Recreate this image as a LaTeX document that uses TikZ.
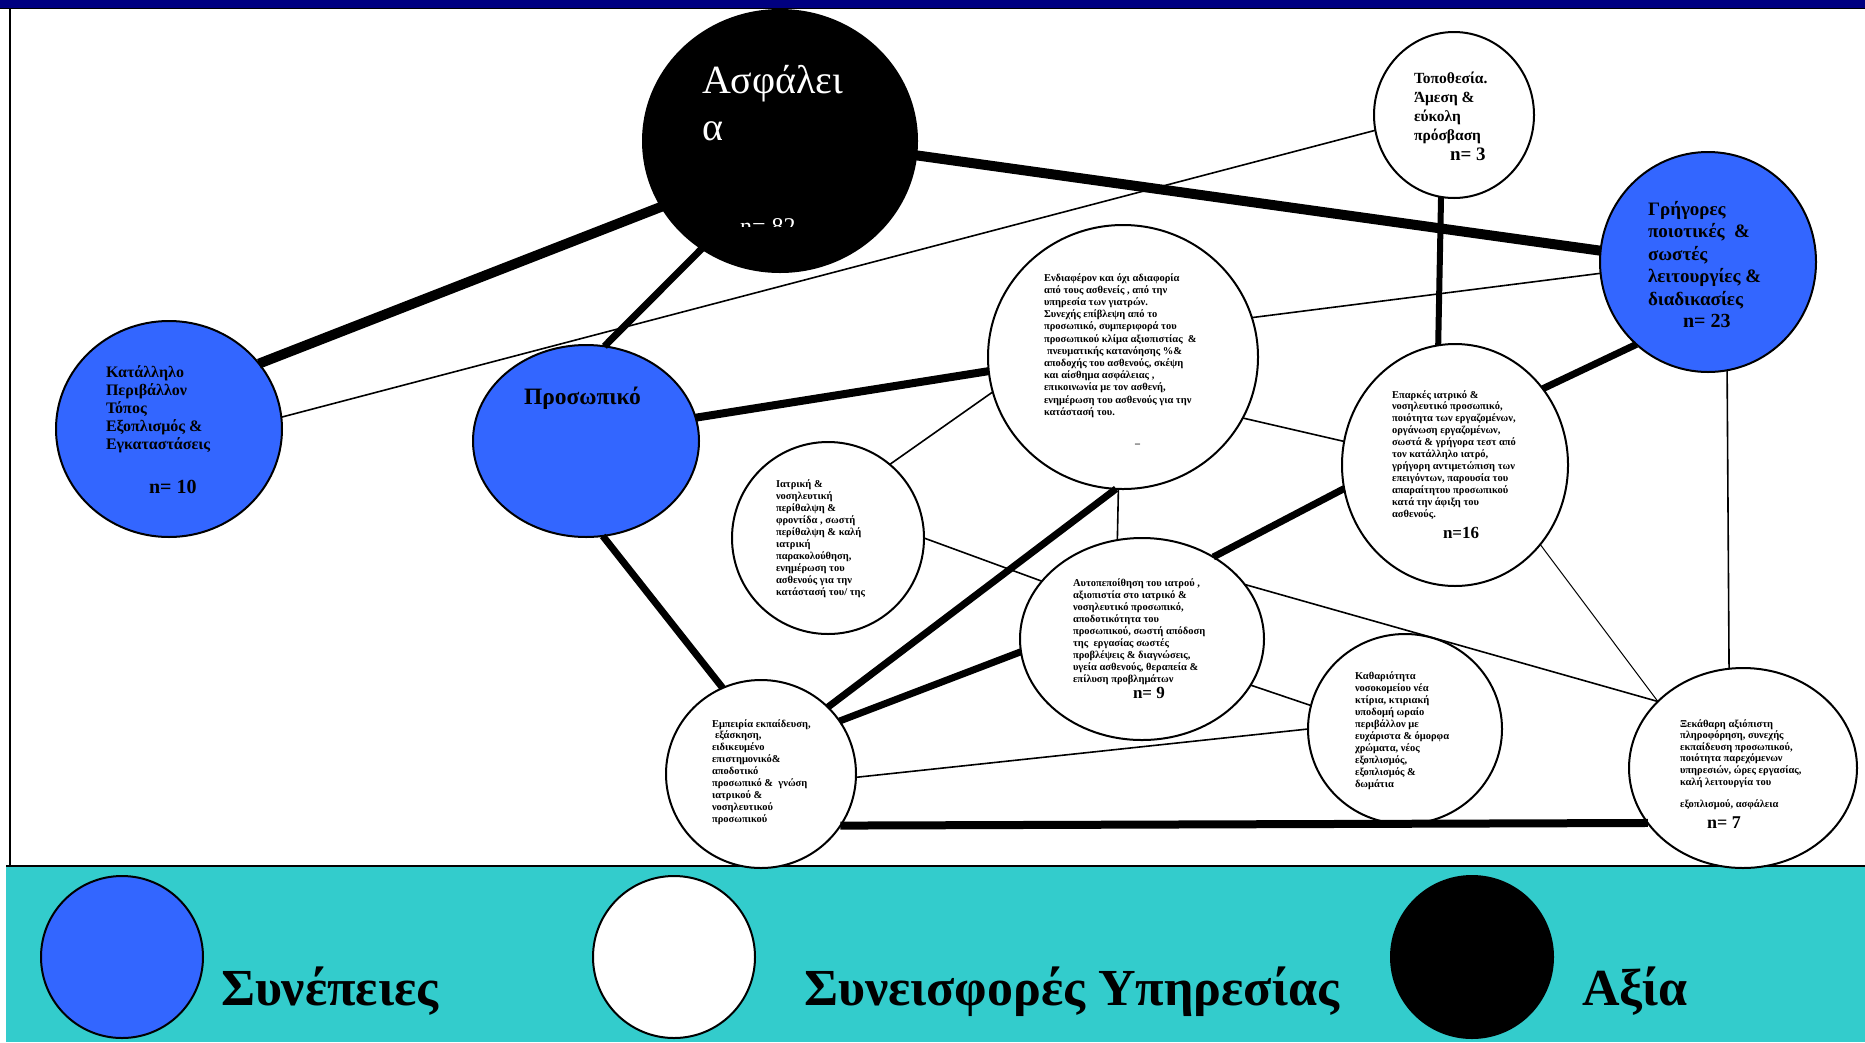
\documentclass[tikz,border=0pt]{standalone}
\usepackage{fontspec}
\setmainfont{Liberation Serif}
\usetikzlibrary{shapes.geometric}
\definecolor{myblue}{RGB}{51,102,255}
\definecolor{myteal}{RGB}{51,204,204}
\definecolor{mynavy}{RGB}{0,0,128}
\newcommand\mylines[1]{\vtop{\halign{##\hfil\cr#1\crcr}}}
\tikzset{
  bub/.style={ellipse, draw=black, line width=2pt, inner sep=0pt, outer sep=0pt},
  bluebub/.style={bub, fill=myblue},
  whitebub/.style={bub, fill=white},
  blackbub/.style={bub, fill=black},
  heavy/.style={line width=8pt},
  light/.style={line width=1.6pt},
  txt/.style={anchor=base west, inner sep=0pt, outer sep=0pt},
  smalltxt/.style={txt, font=\bfseries\fontsize{10.5}{12}\selectfont},
  ntxt/.style={txt, font=\bfseries\fontsize{#1}{#1}\selectfont},
  legtxt/.style={txt, font=\bfseries\fontsize{52}{60}\selectfont},
}
\begin{document}
\begin{tikzpicture}[x=1pt,y=-1pt]
\useasboundingbox (0,0) rectangle (1865,1042);
% frame
\fill[white] (0,0) rectangle (1865,1042);
\fill[mynavy] (0,0) rectangle (1865,8);
\draw[line width=1pt] (0,8) -- (1865,8);
\draw[line width=2pt] (10,8) -- (10,866);
\fill[myteal] (6,866) rectangle (1865,1042);
\draw[line width=2pt] (6,866) -- (1865,866);

% nodes
\node[blackbub, minimum width=274, minimum height=262] (asf) at (780,141) {};
\node[bluebub, minimum width=226, minimum height=216] (kat) at (169,429) {};
\node[bluebub, minimum width=226, minimum height=192] (pro) at (586,441) {};
\node[whitebub, minimum width=160, minimum height=166] (topo) at (1454,115) {};
\node[bluebub, minimum width=216, minimum height=220] (gri) at (1708,262) {};
\node[whitebub, minimum width=270, minimum height=264] (endi) at (1123,357) {};
\node[whitebub, minimum width=226, minimum height=242] (epa) at (1455,465) {};
\node[whitebub, minimum width=192, minimum height=192] (iat) at (828,538) {};
\node[whitebub, minimum width=244, minimum height=202] (aut) at (1142,639) {};
\node[whitebub, minimum width=194, minimum height=190] (kath) at (1405,729) {};
\node[whitebub, minimum width=190, minimum height=188] (emp) at (761,774) {};
\node[whitebub, minimum width=228, minimum height=200] (xek) at (1743,768) {};

% heavy connectors
\draw[heavy, line width=10pt] (asf.209) -- (kat.36);
\draw[heavy, line width=7pt] (asf.234) -- (pro.79);
\draw[heavy, line width=10pt] (asf.-6) -- (gri.174);
\draw[heavy] (pro.12) -- (endi.186);
\draw[heavy, line width=7pt] (pro.-80) -- (emp.114);
\draw[heavy, line width=7pt] (emp.45) -- (endi.267);
\draw[heavy, line width=7pt] (emp.34) -- (aut.186);
\draw[heavy, line width=7pt] (aut.49) -- (epa.192);
\draw[heavy, line width=7pt] (gri.229) -- (epa.41);
\draw[heavy, line width=6pt] (topo.261) -- (epa.98);
\draw[heavy] (emp.-33) -- (xek.210);

% light connectors
\draw[light] (kat.6) -- (topo.191);
\draw[light] (endi.17) -- (gri.186);
\draw[light] (endi.-27) -- (epa.168);
\draw[light] (iat.50) -- (endi.195);
\draw[light] (iat.0) -- (aut.150);
\draw[light] (endi.268) -- (aut.104);
\draw[light] (aut.28) -- (xek.142);
\draw[light] (aut.-23) -- (kath.166);
\draw[light] (emp.-2) -- (kath.180);
\draw[line width=1pt] (epa.-43) -- (xek.142);
\draw[light] (gri.-80) -- (xek.98);

% texts
\node[txt, text=white, font=\fontsize{40}{47}\selectfont] (asft) at (702,93) {\mylines{Ασφάλει\cr α}};
\begin{scope}
\clip (700,200) rectangle (860,226);
\node[txt, text=white, font=\fontsize{24}{28}\selectfont] (asfn) at (740,234) {n=\ 82};
\end{scope}

\node[txt, font=\bfseries\fontsize{16}{18.2}\selectfont] (katt) at (106,377)
  {\mylines{Κατάλληλο\cr Περιβάλλον\cr Τόπος\cr Εξοπλισμός \&\cr Εγκαταστάσεις}};
\node[ntxt=20] (katn) at (149,493) {n= 10};

\node[txt, font=\bfseries\fontsize{23.5}{28}\selectfont] (prot) at (524,404) {Προσωπικό};

\node[txt, font=\bfseries\fontsize{15.5}{19}\selectfont] (topot) at (1414,83)
  {\mylines{Τοποθεσία.\cr Άμεση \&\cr εύκολη\cr πρόσβαση}};
\node[ntxt=19] (topon) at (1450,160) {n= 3};

\node[txt, font=\bfseries\fontsize{19}{22.5}\selectfont] (grit) at (1648,215)
  {\mylines{Γρήγορες\cr ποιοτικές \ \&\cr σωστές\cr λειτουργίες \&\cr διαδικασίες}};
\node[ntxt=20] (grin) at (1683,327) {n= 23};

\node[txt, font=\bfseries\fontsize{10.5}{12.2}\selectfont] (endit) at (1044,281)
  {\mylines{Ενδιαφέρον και όχι αδιαφορία\cr
   από τους ασθενείς , από την\cr
   υπηρεσία των γιατρών.\cr
   Συνεχής επίβλεψη από το\cr
   προσωπικό, συμπεριφορά του\cr
   προσωπικού κλίμα αξιοπιστίας \ \&\cr
   \kern3pt πνευματικής κατανόησης \%\&\cr
   αποδοχής του ασθενούς, σκέψη\cr
   και αίσθημα ασφάλειας ,\cr
   επικοινωνία με τον ασθενή,\cr
   ενημέρωση του ασθενούς για την\cr
   κατάστασή του.}};
\node[ntxt=10] (endid) at (1135,443) {\_};

\node[txt, font=\bfseries\fontsize{10.5}{11.9}\selectfont] (epat) at (1392,398)
  {\mylines{Επαρκές ιατρικό \&\cr
   νοσηλευτικό προσωπικό,\cr
   ποιότητα των εργαζομένων,\cr
   οργάνωση εργαζομένων,\cr
   σωστά \& γρήγορα τεστ από\cr
   τον κατάλληλο ιατρό,\cr
   γρήγορη αντιμετώπιση των\cr
   επειγόντων, παρουσία του\cr
   απαραίτητου προσωπικού\cr
   κατά την άφιξη του\cr
   ασθενούς.}};
\node[ntxt=17] (epan) at (1443,538) {n=16};

\node[smalltxt] (iatt) at (776,487)
  {\mylines{Ιατρική \&\cr
   νοσηλευτική\cr
   περίθαλψη \&\cr
   φροντίδα , σωστή\cr
   περίθαλψη \& καλή\cr
   ιατρική\cr
   παρακολούθηση,\cr
   ενημέρωση του\cr
   ασθενούς για την\cr
   κατάστασή του/ της}};

\node[txt, font=\bfseries\fontsize{10.5}{12.1}\selectfont] (autt) at (1073,586)
  {\mylines{Αυτοπεποίθηση του ιατρού ,\cr
   αξιοπιστία στο ιατρικό \&\cr
   νοσηλευτικό προσωπικό,\cr
   αποδοτικότητα του\cr
   προσωπικού, σωστή απόδοση\cr
   της \ εργασίας σωστές\cr
   προβλέψεις \& διαγνώσεις,\cr
   υγεία ασθενούς, θεραπεία \&\cr
   επίλυση προβλημάτων}};
\node[ntxt=17] (autn) at (1133,698) {n= 9};

\node[smalltxt] (katht) at (1355,679)
  {\mylines{Καθαριότητα\cr
   νοσοκομείου νέα\cr
   κτίρια, κτιριακή\cr
   υποδομή ωραίο\cr
   περιβάλλον με\cr
   ευχάριστα \& όμορφα\cr
   χρώματα, νέος\cr
   εξοπλισμός,\cr
   εξοπλισμός \&\cr
   δωμάτια}};

\node[txt, font=\bfseries\fontsize{10.5}{11.9}\selectfont] (empt) at (712,727)
  {\mylines{Εμπειρία εκπαίδευση,\cr
   \kern3pt εξάσκηση,\cr
   ειδικευμένο\cr
   επιστημονικό\&\cr
   αποδοτικό\cr
   προσωπικό \& \ γνώση\cr
   ιατρικού \&\cr
   νοσηλευτικού\cr
   προσωπικού}};

\node[txt, font=\bfseries\fontsize{10.5}{11.6}\selectfont] (xekt) at (1680,727)
  {\mylines{Ξεκάθαρη αξιόπιστη\cr
   πληροφόρηση, συνεχής\cr
   εκπαίδευση προσωπικού,\cr
   ποιότητα παρεχόμενων\cr
   υπηρεσιών, ώρες εργασίας,\cr
   καλή λειτουργία του\cr
   \noalign{\vskip10.4pt}
   εξοπλισμού, ασφάλεια}};
\node[ntxt=18] (xekn) at (1707,828) {n= 7};

% legend
\node[bluebub, minimum size=162] (lg1) at (122,957) {};
\node[whitebub, minimum size=162] (lg2) at (674,957) {};
\node[blackbub, minimum size=162] (lg3) at (1472,957) {};
\node[legtxt] (lg1t) at (221,1005) {Συνέπειες};
\node[legtxt] (lg2t) at (804,1005) {Συνεισφορές Υπηρεσίας};
\node[legtxt] (lg3t) at (1582,1005) {Αξία};
\end{tikzpicture}
\end{document}
